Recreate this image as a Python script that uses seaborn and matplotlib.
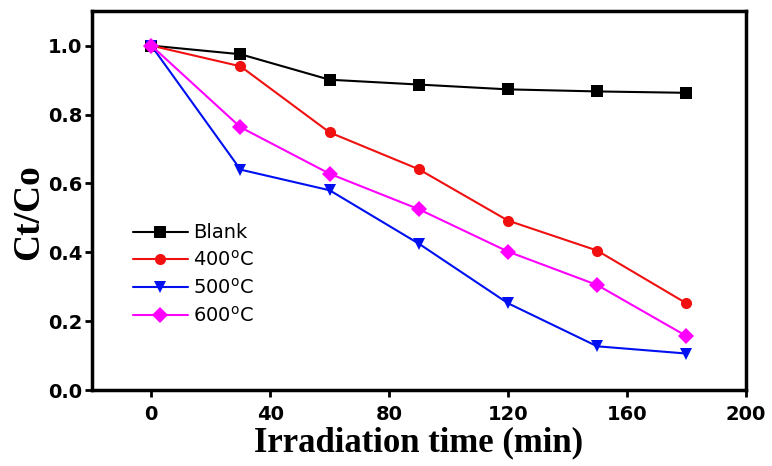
import pandas as pd
import matplotlib.pyplot as plt
import seaborn as sns

time_min = [0, 30, 60, 90, 120, 150, 180]
blank = [1.0, 0.975, 0.901, 0.887, 0.873, 0.867, 0.863]
t400 = [1.0, 0.940, 0.748, 0.641, 0.492, 0.405, 0.252]
t500 = [1.0, 0.640, 0.580, 0.425, 0.252, 0.127, 0.106]
t600 = [1.0, 0.763, 0.628, 0.525, 0.402, 0.305, 0.157]

labels = ['Blank', '400$^{\\mathregular{o}}$C', '500$^{\\mathregular{o}}$C', '600$^{\\mathregular{o}}$C']
colors = ['black', '#f01010', '#0010f0', '#ff00ff']
markers = ['s', 'o', 'v', 'D']


def main():
    sns.set_style('ticks')
    plt.rcParams['text.color'] = 'black'
    plt.rcParams['xtick.color'] = 'black'
    plt.rcParams['ytick.color'] = 'black'
    plt.rcParams['axes.labelcolor'] = 'black'

    rows = []
    for lab, vals in zip(labels, [blank, t400, t500, t600]):
        for t, v in zip(time_min, vals):
            rows.append({'time': t, 'ratio': v, 'sample': lab})
    df = pd.DataFrame(rows)

    fig = plt.figure(figsize=(7.72, 4.66), dpi=100)
    ax = fig.add_axes([0.119, 0.163, 0.847, 0.813])
    sns.lineplot(data=df, x='time', y='ratio', hue='sample', style='sample',
                 palette=colors, markers=markers, dashes=False, markersize=8,
                 markeredgewidth=0, linewidth=1.5, ax=ax)

    ax.set_xlim(-20, 200)
    ax.set_ylim(0, 1.1)
    ax.set_xticks([0, 40, 80, 120, 160, 200])
    ax.set_yticks([0.0, 0.2, 0.4, 0.6, 0.8, 1.0])
    ax.set_yticklabels(['0.0', '0.2', '0.4', '0.6', '0.8', '1.0'])
    for lbl in ax.get_xticklabels() + ax.get_yticklabels():
        lbl.set_family('DejaVu Sans')
        lbl.set_fontweight('bold')
        lbl.set_fontsize(14)
    ax.tick_params(direction='out', length=5, width=2, top=False, right=False)
    ax.tick_params(axis='x', pad=6)
    ax.tick_params(axis='y', pad=2)
    for sp in ax.spines.values():
        sp.set_linewidth(2.5)
        sp.set_color('black')

    ax.set_xlabel('Irradiation time (min)', family='Liberation Serif',
                  fontweight='bold', fontsize=25)
    ax.xaxis.set_label_coords(0.5, -0.095)
    ax.set_ylabel('Ct/Co', family='Liberation Serif', fontweight='bold',
                  fontsize=27)
    ax.yaxis.set_label_coords(-0.07, 0.47)

    ax.legend(loc='upper left', bbox_to_anchor=(0.063, 0.44), frameon=False,
              borderpad=0, borderaxespad=0,
              handlelength=2.8, labelspacing=0.4, handletextpad=0.3,
              prop={'family': 'DejaVu Sans', 'size': 14})
    fig.savefig('out.png', dpi=100)
    plt.close(fig)


if __name__ == '__main__':
    main()
